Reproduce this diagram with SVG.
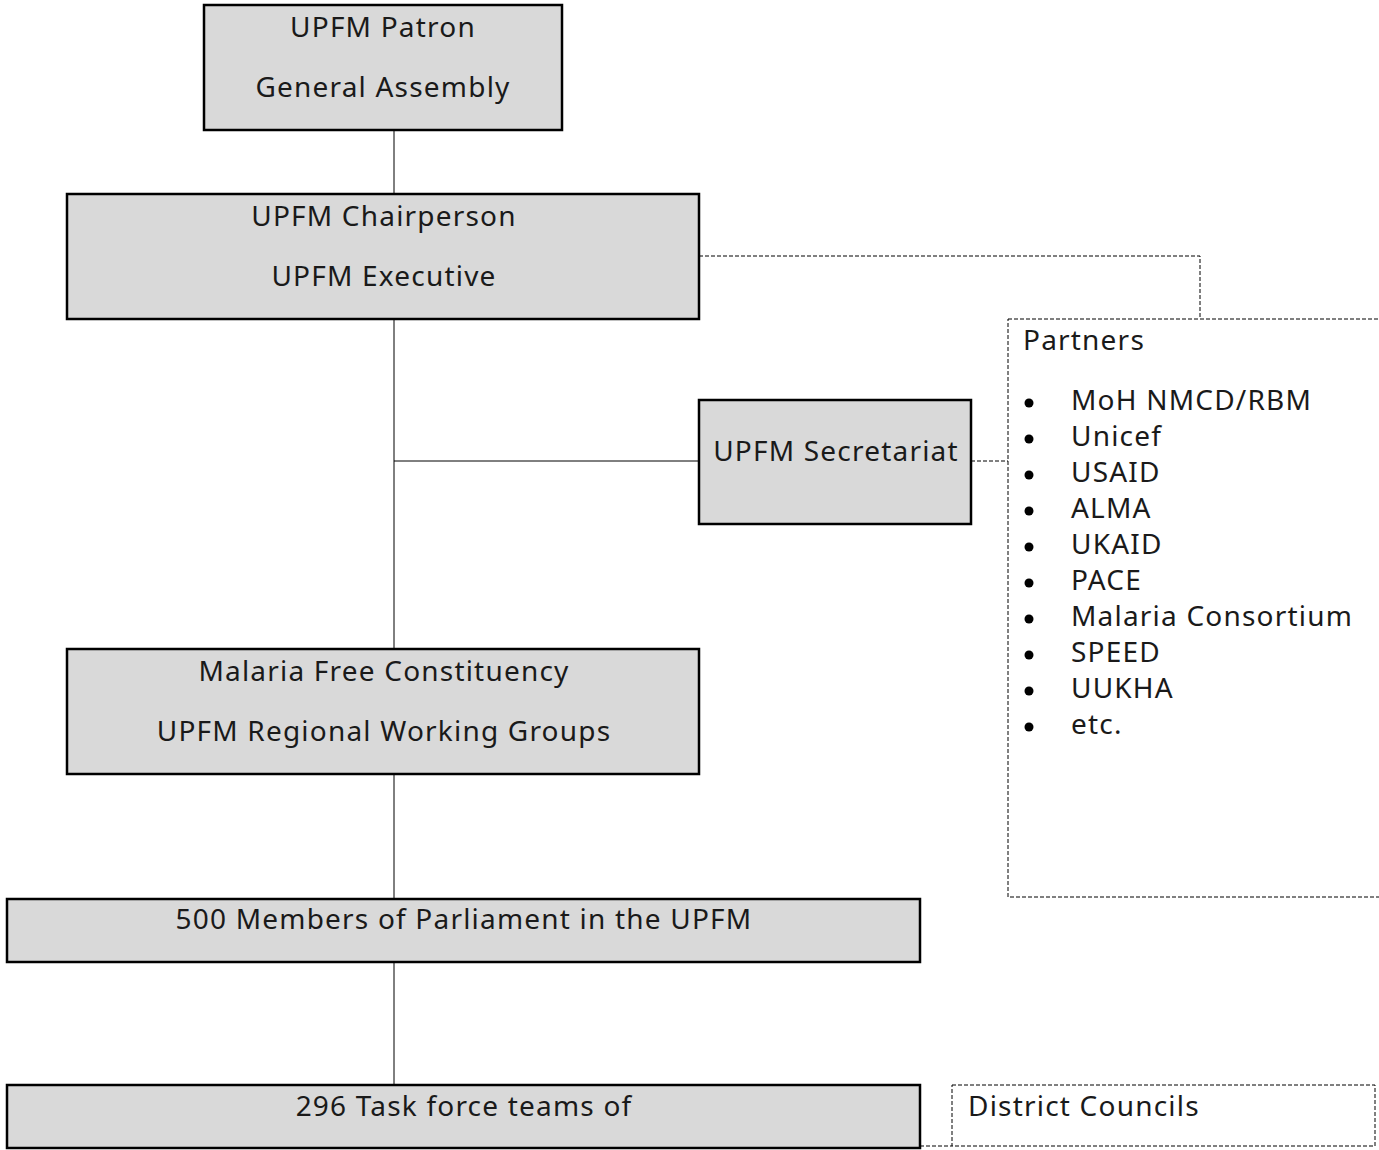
<svg xmlns="http://www.w3.org/2000/svg" width="1379" height="1150" viewBox="0 0 1379 1150">
<style>
.box{fill:#d9d9d9;stroke:#000;stroke-width:2.5}
.dbox{fill:#fff;stroke:#000;stroke-width:1;stroke-dasharray:4 2}
.ln{stroke:#000;stroke-width:1;fill:none}
.dl{stroke:#000;stroke-width:1;fill:none;stroke-dasharray:4 2}
text{font-family:"Noto Sans","Liberation Sans",sans-serif;font-size:28px;letter-spacing:1.2px;fill:#1a1a1a}
.c{text-anchor:middle}
</style>
<rect width="1379" height="1150" fill="#fff"/>
<g id="connectors">
<line class="ln" x1="394" y1="130" x2="394" y2="194"/>
<line class="ln" x1="394" y1="319" x2="394" y2="649"/>
<line class="ln" x1="394" y1="461" x2="699" y2="461"/>
<line class="ln" x1="394" y1="774" x2="394" y2="899"/>
<line class="ln" x1="394" y1="962" x2="394" y2="1085"/>
<polyline class="dl" points="699,256 1200,256 1200,319"/>
<line class="dl" x1="971" y1="461" x2="1008" y2="461"/>
<line class="dl" x1="920" y1="1146" x2="952" y2="1146"/>
</g>
<g id="patron">
<rect class="box" x="204" y="5" width="358" height="125"/>
<text class="c" x="383" y="37">UPFM Patron</text>
<text class="c" x="383" y="97">General Assembly</text>
</g>
<g id="chair">
<rect class="box" x="67" y="194" width="632" height="125"/>
<text class="c" x="384" y="226">UPFM Chairperson</text>
<text class="c" x="384" y="286">UPFM Executive</text>
</g>
<g id="secretariat">
<rect class="box" x="699" y="400" width="272" height="124"/>
<text class="c" x="836" y="461">UPFM Secretariat</text>
</g>
<g id="partners">
<rect class="dbox" x="1008" y="319" width="380" height="578"/>
<text x="1023" y="350">Partners</text>
<g>
<circle cx="1029" cy="403" r="4.5"/><text x="1071" y="410">MoH NMCD/RBM</text>
<circle cx="1029" cy="439" r="4.5"/><text x="1071" y="446">Unicef</text>
<circle cx="1029" cy="475" r="4.5"/><text x="1071" y="482">USAID</text>
<circle cx="1029" cy="511" r="4.5"/><text x="1071" y="518">ALMA</text>
<circle cx="1029" cy="547" r="4.5"/><text x="1071" y="554">UKAID</text>
<circle cx="1029" cy="583" r="4.5"/><text x="1071" y="590">PACE</text>
<circle cx="1029" cy="619" r="4.5"/><text x="1071" y="626">Malaria Consortium</text>
<circle cx="1029" cy="655" r="4.5"/><text x="1071" y="662">SPEED</text>
<circle cx="1029" cy="691" r="4.5"/><text x="1071" y="698">UUKHA</text>
<circle cx="1029" cy="727" r="4.5"/><text x="1071" y="734">etc.</text>
</g>
</g>
<g id="regional">
<rect class="box" x="67" y="649" width="632" height="125"/>
<text class="c" x="384" y="681">Malaria Free Constituency</text>
<text class="c" x="384" y="741">UPFM Regional Working Groups</text>
</g>
<g id="members">
<rect class="box" x="7" y="899" width="913" height="63"/>
<text class="c" x="464" y="929">500 Members of Parliament in the UPFM</text>
</g>
<g id="taskforce">
<rect class="box" x="7" y="1085" width="913" height="63"/>
<text class="c" x="464" y="1116">296 Task force teams of</text>
</g>
<g id="district">
<rect class="dbox" x="952" y="1085" width="423" height="61"/>
<text x="968" y="1116">District Councils</text>
</g>
</svg>
